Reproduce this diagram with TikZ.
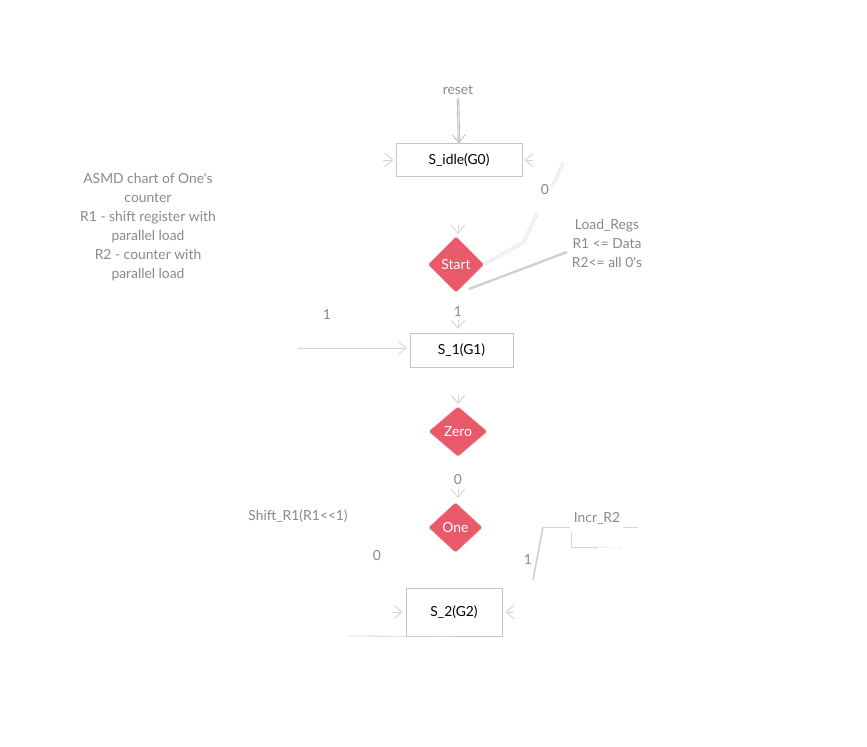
\documentclass[tikz,border=0pt]{standalone}
\usepackage{fontspec}
\setmainfont{Lato}[Ligatures=TeXOff]
\usetikzlibrary{shapes.geometric,arrows.meta,calc}
\definecolor{lbl}{HTML}{8A8A8A}
\definecolor{edgec}{HTML}{C4C4C4}
\definecolor{faint}{HTML}{D6D6D6}
\definecolor{dia}{HTML}{E85A6A}
\begin{document}
\begin{tikzpicture}[x=0.75pt,y=-0.75pt,
  every node/.style={font=\fontsize{10.4}{14.25}\selectfont},
  lab/.style={text=lbl,inner sep=0pt},
  statebox/.style={draw=edgec,line width=0.6pt,fill=white,text=black,inner sep=0pt},
  decis/.style={diamond,fill=dia,draw=dia!85!white,line width=0.5pt,text=white,inner sep=0pt,rounded corners=1pt},
  tipline/.style={draw=faint,line width=0.7pt,-{Straight Barb[length=6pt,width=10pt]}},
  wire/.style={draw=faint,line width=0.6pt},
  dwire/.style={draw=faint,double=white,double distance=0.9pt,line width=0.45pt},
  thick wire/.style={draw=edgec!80,line width=1.8pt}
]
\useasboundingbox[fill=white] (0,0) rectangle (867,746);

% states
\node[statebox,minimum width=94.5pt,minimum height=24.75pt] (idle) at (459,160) {S\_idle(G0)};
\node[statebox,minimum width=77.25pt,minimum height=25.5pt] (s1) at (461.5,350) {S\_1(G1)};
\node[statebox,minimum width=72pt,minimum height=36pt] (s2) at (454,612) {S\_2(G2)};

% decisions
\node[decis,minimum width=41.5pt,minimum height=41.5pt] (start) at (456,264.5) {Start};
\node[decis,minimum width=43.5pt,minimum height=37pt] (zero) at (458,431.5) {Zero};
\node[decis,minimum width=40pt,minimum height=37pt] (one) at (455.5,527.5) {One};

% labels
\node[lab] (reset) at (458,90) {reset};
\node[lab,align=center] (note) at (148,227) {ASMD chart of One's\\counter\\R1 - shift register with\\parallel load\\R2 - counter with\\parallel load};
\node[lab,align=center] (loadregs) at (607,243) {Load\_Regs\\R1 <= Data\\R2<= all 0's};
\node[lab] (z0a) at (545,190) {0};
\node[lab] (st1) at (458,312) {1};
\node[lab] (left1) at (327,315) {1};
\node[lab] (zr0) at (458,480) {0};
\node[lab] (shift) at (298,516) {Shift\_R1(R1<<1)};
\node[lab] (on0) at (377,556) {0};
\node[lab] (on1) at (528,560) {1};
\node[lab] (incr) at (597,518) {Incr\_R2};

% reset arrow
\draw[draw=edgec!90!black,double=white!92!black,double distance=0.8pt,line width=0.5pt,-{Straight Barb[length=6pt,width=10pt]}] ($(reset.south)+(0,3)$) -- (idle.north);

% faint arrow tips
\coordinate (a1) at (383,160);
\draw[tipline] (a1) -- ($(idle.west)+(-2,0)$);
\coordinate (a2) at (533,160);
\draw[tipline] (a2) -- ($(idle.east)+(2,0)$);
\coordinate (a3) at (458,225);
\draw[tipline] (a3) -- (458,234);
\coordinate (a4) at (458,320);
\draw[tipline] (a4) -- (458,329);
\coordinate (a5) at (458,395);
\draw[tipline] (a5) -- (458,404);
\coordinate (a6) at (458,489);
\draw[tipline] (a6) -- (458,498);
\coordinate (a7) at (392,612);
\draw[tipline] (a7) -- ($(s2.west)+(-3,0)$);
\coordinate (a8) at (514,612);
\draw[tipline] (a8) -- ($(s2.east)+(3,0)$);

% 0 branch of Start (back to S_idle)
\coordinate (b1) at (563,163);
\coordinate (b2) at (537,213);
\coordinate (b3) at (524,242);
\draw[dwire] (b1) -- (552,187);
\draw[dwire] (b2) -- (b3) -- (start.east);

% Load_Regs connector
\draw[thick wire] (469,289) -- (567,252);

% 1 into S_1 from left
\coordinate (c1) at (298,348);
\draw[wire,-{Straight Barb[length=6pt,width=10pt]}] (c1) -- ($(s1.west)+(-3,-2)$);

% Incr_R2 conditional output
\coordinate (d1) at (533,580);
\coordinate (d2) at (543,527);
\draw[draw=edgec!80,line width=1.2pt] (d1) -- (d2);
\draw[wire] (d2) -- (570,527);
\draw[wire] (623,527) -- (638,527);
\draw[wire] (571,532) -- (571,547) -- (597,547);
\draw[draw=faint,line width=0.6pt,dotted] (597,547) -- (623,547);

% bottom line at S_2
\coordinate (e1) at (348,636);
\draw[wire] (e1) -- (s2.south);
\end{tikzpicture}
\end{document}
